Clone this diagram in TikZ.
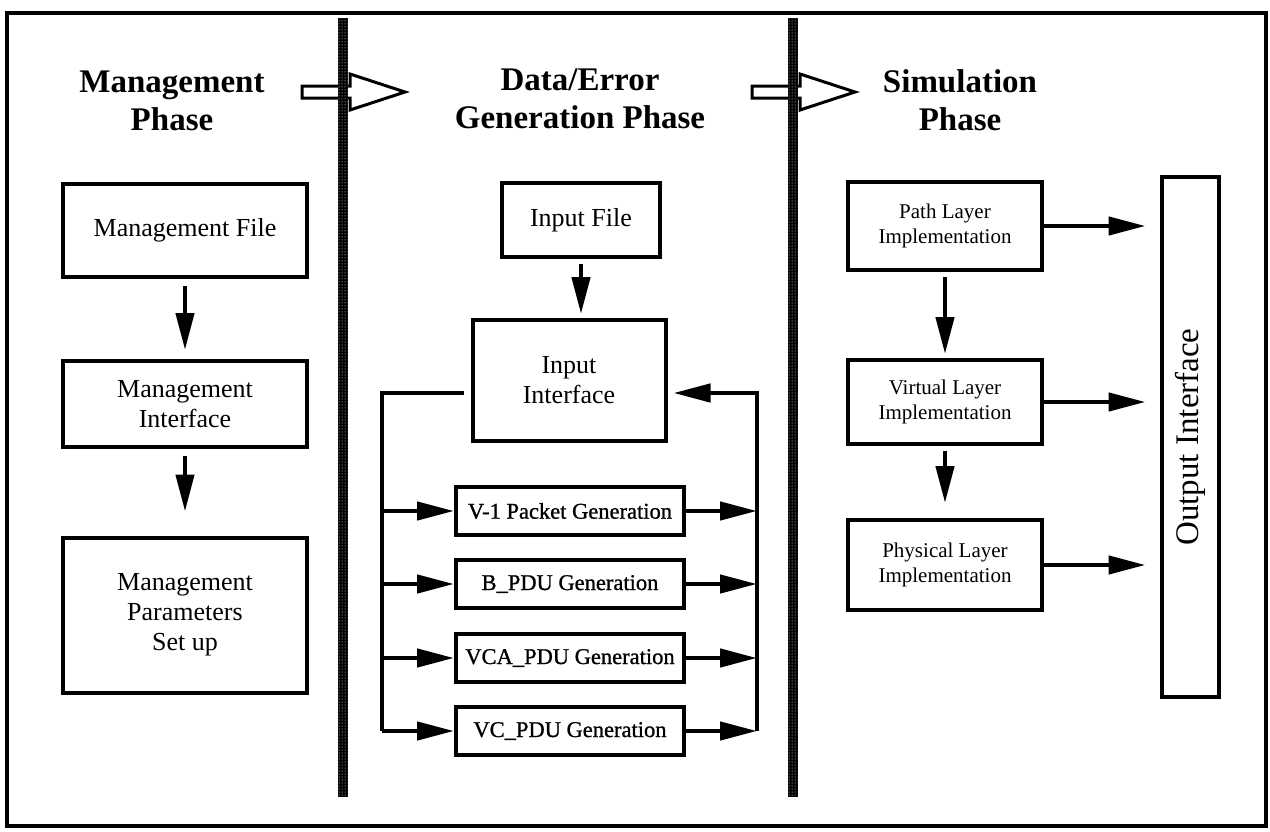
\documentclass[tikz,border=0pt]{standalone}
\usepackage{fontspec}
\setmainfont{Liberation Serif}
\newfontfamily\genfont[FakeBold=1]{Liberation Serif}
\usetikzlibrary{arrows.meta,patterns,calc}

\begin{document}
\begin{tikzpicture}[x=1pt,y=-1pt,
  box/.style={draw, line width=4pt, align=center, inner sep=4pt},
  mtext/.style={font=\fontsize{26}{30}\selectfont},
  gtext/.style={font=\genfont\fontsize{22.5}{26}\selectfont},
  ltext/.style={font=\fontsize{21}{25}\selectfont},
  phasetitle/.style={font=\bfseries\fontsize{33}{38}\selectfont, align=center},
  flow/.style={line width=4.5pt, -{Triangle[length=37pt,width=18pt]}},
  wire/.style={line width=3.5pt},
  hollow/.style={draw, line width=3pt, fill=white, line join=miter},
  divider/.style={fill=black},
]
\useasboundingbox (0,0) rectangle (1270,831);

% outer frame
\draw[line width=3.5pt] (7,13) rectangle (1266,826);

% phase titles
\node[phasetitle] (t1) at (172,101) {Management\\Phase};
\node[phasetitle] (t2) at (580,99) {Data/Error\\Generation Phase};
\node[phasetitle] (t3) at (960,100) {Simulation\\Phase};

% hollow phase arrows
\draw[hollow] (302,86) -- (350,86) -- (350,74) -- (405,92) -- (350,110) -- (350,98) -- (302,98) -- cycle;
\draw[hollow] (752,86) -- (800,86) -- (800,74) -- (855,92) -- (800,110) -- (800,98) -- (752,98) -- cycle;

% dotted phase dividers
\foreach \xc in {343,793}{
  \fill[divider] (\xc-5,18) rectangle (\xc+5,797);
  \fill[pattern=dots, pattern color=white] (\xc-5,18) rectangle (\xc+5,797);
}

% management phase
\node[box, mtext, minimum width=244, minimum height=93] (mf) at (185,230.5) {Management File};
\node[box, mtext, minimum width=244, minimum height=86] (mi) at (185,404) {Management\\Interface};
\node[box, mtext, minimum width=244, minimum height=155] (mp) at (185,615) {Management\\Parameters\\Set up};
\draw[flow, shorten <=7pt, shorten >=9pt] (mf.south) -- (mi.north);
\draw[flow, shorten <=7pt, shorten >=24pt] (mi.south) -- (mp.north);

% data/error generation phase
\node[box, mtext, minimum width=158, minimum height=74] (inf) at (581,220) {Input File};
\node[box, mtext, minimum width=193, minimum height=121] (ii) at (569,380.5) {Input\\Interface};
\draw[flow, shorten <=5pt, shorten >=4pt] (inf.south) -- (inf.south |- ii.north);

\node[box, gtext, minimum width=228, minimum height=48] (g1) at (570,511) {V-1 Packet Generation};
\node[box, gtext, minimum width=228, minimum height=48] (g2) at (570,584) {B\_PDU Generation};
\node[box, gtext, minimum width=228, minimum height=48] (g3) at (570,658) {VCA\_PDU Generation};
\node[box, gtext, minimum width=228, minimum height=48] (g4) at (570,731) {VC\_PDU Generation};

\coordinate (ltop) at (464,393);
\coordinate (lcorner) at (382,393);
\coordinate (lbot) at (382,731);
\coordinate (rbot) at (757,731);
\coordinate (rtop) at (757,393);

\draw[wire, line join=miter] (ltop) -- (lcorner) -- (lbot);
\draw[wire, line join=miter] (rbot) -- (rtop);
\foreach \g in {g1,g2,g3,g4}{
  \draw[flow] (lcorner |- \g) -- (\g.west);
  \draw[flow] (\g.east) -- (rtop |- \g);
}
\draw[flow, shorten >=6pt] ($(rtop)+(1.75,0)$) -- (rtop -| ii.east);

% simulation phase
\node[box, ltext, minimum width=194, minimum height=88] (pl) at (945,226) {Path Layer\\Implementation};
\node[box, ltext, minimum width=194, minimum height=84] (vl) at (945,402) {Virtual Layer\\Implementation};
\node[box, ltext, minimum width=194, minimum height=90] (phl) at (945,565) {Physical Layer\\Implementation};
\node[box, minimum width=57, minimum height=520] (oi) at (1190,437) {};
\node[rotate=90, font=\fontsize{33}{38}\selectfont] (oitext) at (oi.center) {Output Interface};

\draw[flow, shorten <=5pt, shorten >=4pt] (pl.south) -- (vl.north);
\draw[flow, shorten <=5pt, shorten >=15pt] (vl.south) -- (phl.north);
\foreach \l in {pl,vl,phl}{
  \draw[flow, shorten >=14pt] (\l.east) -- (\l.east -| oi.west);
}
\end{tikzpicture}
\end{document}
